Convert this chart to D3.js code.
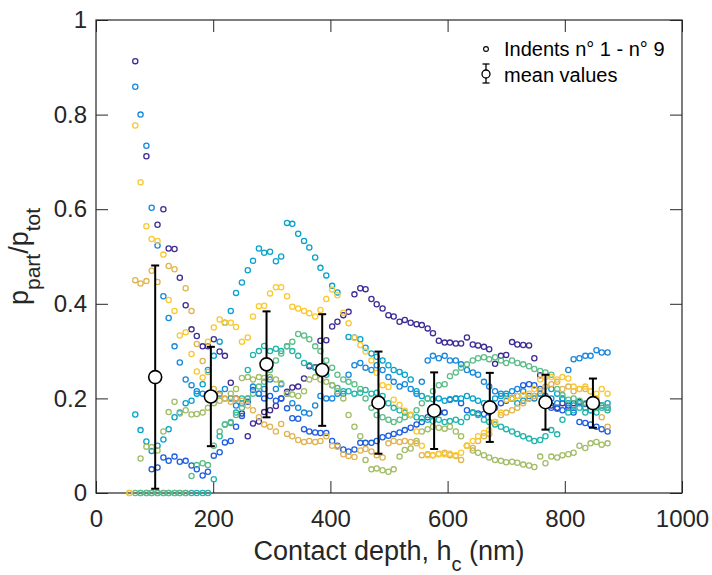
<!DOCTYPE html>
<html>
<head>
<meta charset="utf-8">
<script src="https://cdn.jsdelivr.net/npm/d3@7"></script>
<style>
  body { margin: 0; background: #fff; }
  svg { font-family: "Liberation Sans", Arial, Helvetica, sans-serif; }
</style>
</head>
<body>
<svg id="chart" width="712" height="575"></svg>
<script>
// contact depth grid (nm), shared by the nine indents
var depth = [57,67,76,86,95,105,115,124,134,143, 153,163,172,182,191,201,211,220,230,239,
  249,259,268,278,287,297,307,316,326,335, 345,355,364,374,383,393,403,412,422,431,
  441,451,460,470,479,489,499,508,518,527, 537,547,556,566,575,585,595,604,614,623,
  633,643,652,662,671,681,691,700,710,719, 729,739,748,758,767,777,787,796,806,815,
  825,835,844,854,863,873];

// p_part / p_tot for each indent (null = no point)
var indent1 = [null,.913,null,.712,null,.567,.60,.517,.516,.455, .397,.346,.332,.31,.31,.325,.299,.29,.233,.20,
  .168,.12,.147,.151,.171,.175,.184,.20,.214,.223, .225,.242,.268,.266,.322,.323,.352,.362,.376,.383,
  .42,.433,.431,.41,.399,.39,.376,.373,.362,.366, .36,.357,.355,.348,.338,.322,.318,.318,.316,.316,
  .329,.314,.312,.309,.304,.273,.29,.292,.319,.314, .313,.312,.285,.249,.20,.185,.18,.19,.185,.19,
  .193,.188,.19,.19,.185,.18];
var indent2 = [null,null,null,null,.05,.054,.075,.068,.077,.066, .068,.058,.05,.037,.045,.079,.086,.107,.11,.14,
  .163,.193,.218,.21,.2,.205,.195,.2,.179,.158, .157,.135,.13,.128,.127,.127,.11,.1,.092,.088,
  .092,.106,.106,.106,.11,.118,.121,.125,.128,.133, .138,.145,.15,.16,.166,.17,.17,.197,.2,.19,
  .175,.17,.168,.167,.17,.18,.19,.195,.2,.205, .228,.23,.228,.22,.2,.18,.178,.175,.18,.17,
  .15,.148,.145,.14,.135,.13];
var indent3 = [null,.859,.80,.734,.603,.523,.416,.37,.31,.276, .24,.228,.215,.21,.205,.2,.21,.22,.2,.185,
  .19,.2,.225,.21,.22,.24,.22,.23,.21,.19, .18,.17,.168,.185,.205,.2,.2,.21,.21,.25,
  .27,.275,.265,.26,.27,.26,.245,.235,.225,.23, .22,.21,.235,.28,.29,.285,.29,.28,.28,.272,
  .26,.255,.25,.235,.225,.215,.21,.205,.215,.22, .215,.205,.2,.21,.205,.2,.19,.2,.26,.283,
  .285,.29,.29,.302,.297,.297];
var indent4 = [null,.166,.133,.109,.089,.1,.113,.135,.16,.17, .19,.195,.21,.23,.26,.29,.32,.36,.385,.423,
  .445,.471,.491,.517,.508,.51,.49,.50,.571,.569, .548,.533,.519,.498,.476,.46,.438,.424,null,.33,
  .329,.325,.307,.295,.288,.28,.27,.26,.256,.25, .24,.215,.205,.2,.198,.2,.195,.198,.2,.2,
  .205,.2,.195,.19,.19,.2,.205,.21,.2,.19, .195,.2,.205,.21,.2,.22,.21,.2,.19,.185,
  .19,.18,.175,.18,.185,.19];
var indent5 = [null,null,0,0,0,0,0,0,0,0, 0,0,0,0,0,.029,.12,.145,.148,.17,
  .2,.26,.292,.30,.311,.30,.305,.30,.31,.30, .29,.275,.27,.265,.26,.25,.228,.222,.215,.215,
  .21,.212,.218,.21,.212,.205,.19,.18,.175,.17, .165,.16,.158,.155,.152,.155,.15,.152,.155,.15,
  .16,.17,.165,.155,.15,.145,.14,.135,.13,.125, .12,.115,.11,.112,.12,.133,.124,.155,.17,.175,
  .18,.17,.175,.17,.18,.175];
var indent6 = [null,0,0,0,0,0,0,0,0,0, 0,.036,.059,.063,.059,.1,.13,.145,.15,.165,
  .18,.2,.21,.225,.235,.26,.28,.295,.31,.32, .336,.333,.325,.31,.30,.28,.265,.25,.24,.235,
  .23,.22,.2,.18,.165,.16,.155,.15,.155,.16, .165,.175,.19,.2,.215,.228,.23,.247,.255,.265,
  .272,.28,.285,.287,.283,.287,.28,.275,.28,.275, .272,.268,.262,.258,.255,.25,.22,.207,.197,.2,
  .195,.19,.185,.18,.185,.18];
var indent7 = [0,null,.073,.098,.097,.09,.13,.171,.193,.168, .175,.166,.167,.17,.18,.19,.195,.2,.21,.22,
  .243,.245,.24,.245,.243,.245,.24,.232,.21,.208, .205,.215,.24,.245,.24,.235,.228,.215,.2,.165,
  .14,.12,.07,.05,.052,.048,.045,.05,.077,.091, .094,.11,.13,.135,.14,.138,.136,.14,.13,.12,
  .1,.09,.085,.08,.075,.07,.068,.065,.066,.064, .06,.058,.055,.077,.063,.077,.075,.08,.082,.085,
  .1,.095,.105,.108,.102,.105];
var indent8 = [null,.45,.443,.448,.47,.446,null,.48,.473,null, .433,.385,.315,.279,.256,.22,.207,.199,.193,.2,
  .195,.185,.175,.16,.145,.14,.13,.146,.125,.12, .112,.108,.11,.108,.11,.12,.1,.098,.082,.078,
  .076,.09,.093,.088,.08,.075,.105,.11,.108,.11, .108,.105,.08,.082,.08,.083,.085,.08,.078,.07,
  .1,.095,.11,.12,.125,.15,.165,.17,.175,.18, .19,.2,.205,.215,.225,.23,.235,.22,.225,.215,
  .22,.22,.215,.2,.16,.14];
var indent9 = [0,.777,.657,.564,.537,.533,.504,.408,.385,.333, .34,.294,.257,.244,.32,.35,.367,.36,.36,.351,
  .32,.329,.373,.395,.396,.422,.435,.435,.416,.394, .39,.385,.38,.373,.387,.41,.43,.418,.381,.359,
  .328,.313,.299,.28,.254,.228,.224,.197,.186,.174, .165,.13,.1,.08,.08,.082,.082,.083,.08,.085,
  .1,.11,.12,.127,.133,.15,.17,.197,.2,.205, .207,.21,.22,.24,.245,.245,.24,.245,.242,.225,
  .22,.225,.215,.21,.22,.21];

var indents = [indent1, indent2, indent3, indent4, indent5, indent6, indent7, indent8, indent9];
var indentColors = ["#3e2b96", "#1d5ee0", "#1888dc", "#07a2cd", "#20b4ac",
  "#5dbd88", "#a2bd66", "#e0b451", "#fbc830"];

// mean values with standard deviation
var meanDepth = [101, 196, 291, 386, 482, 577, 672, 767, 848];
var meanValue = [0.245, 0.204, 0.272, 0.26, 0.191, 0.174, 0.181, 0.192, 0.19];
var meanStd = [0.236, 0.105, 0.112, 0.118, 0.108, 0.081, 0.073, 0.058, 0.052];

var xTicks = [0, 200, 400, 600, 800, 1000];
var yTicks = [0, 0.2, 0.4, 0.6, 0.8, 1];

var svg = d3.select("#chart");
var margin = {left: 96, top: 20, right: 30, bottom: 82};
var width = 712 - margin.left - margin.right,
  height = 575 - margin.top - margin.bottom;

var x = d3.scaleLinear().domain([0, 1000]).range([0, width]);
var y = d3.scaleLinear().domain([0, 1]).range([height, 0]);

var g = svg.append("g").attr("transform", "translate(" + margin.left + "," + margin.top + ")");

// axes, ticks pointing inward on all four sides
var axisColor = "#262626";
function styleAxis(sel) {
  sel.select(".domain").remove();
  sel.selectAll("line").attr("stroke", axisColor).attr("stroke-width", 1);
  sel.selectAll("text").attr("fill", axisColor).attr("font-size", 24);
}

g.append("g")
  .attr("transform", "translate(0," + height + ")")
  .call(d3.axisBottom(x).tickValues(xTicks).tickSize(-12).tickPadding(17).tickFormat(d3.format("d")))
  .call(styleAxis);
g.append("g")
  .call(d3.axisLeft(y).tickValues(yTicks).tickSize(-12).tickPadding(9).tickFormat(function(d) { return d3.format("")(d); }))
  .call(styleAxis);
g.append("g")
  .call(d3.axisTop(x).tickValues(xTicks).tickSize(-12).tickFormat(""))
  .call(styleAxis);
g.append("g")
  .attr("transform", "translate(" + width + ",0)")
  .call(d3.axisRight(y).tickValues(yTicks).tickSize(-12).tickFormat(""))
  .call(styleAxis);

g.append("rect")
  .attr("width", width)
  .attr("height", height)
  .attr("fill", "none")
  .attr("stroke", axisColor)
  .attr("stroke-width", 1.2);

// indent scatter points
indents.forEach(function(vals, i) {
  var pts = depth.map(function(d, j) { return {x: d, y: vals[j]}; })
    .filter(function(p) { return p.y !== null; });
  g.append("g").selectAll("circle").data(pts).enter().append("circle")
    .attr("cx", function(d) { return x(d.x); })
    .attr("cy", function(d) { return y(d.y); })
    .attr("r", 2.6)
    .attr("fill", "none")
    .attr("stroke", indentColors[i])
    .attr("stroke-width", 1.3);
});

// mean values with error bars
var means = meanDepth.map(function(d, i) { return {x: d, m: meanValue[i], s: meanStd[i]}; });
var mg = g.append("g");
var eb = mg.selectAll("g").data(means).enter().append("g");
eb.append("line")
  .attr("x1", function(d) { return x(d.x); }).attr("x2", function(d) { return x(d.x); })
  .attr("y1", function(d) { return y(d.m - d.s); }).attr("y2", function(d) { return y(d.m + d.s); })
  .attr("stroke", "#000").attr("stroke-width", 2);
[-1, 1].forEach(function(sign) {
  eb.append("line")
    .attr("x1", function(d) { return x(d.x) - 4; }).attr("x2", function(d) { return x(d.x) + 4; })
    .attr("y1", function(d) { return y(d.m + sign * d.s); }).attr("y2", function(d) { return y(d.m + sign * d.s); })
    .attr("stroke", "#000").attr("stroke-width", 2);
});
eb.append("circle")
  .attr("cx", function(d) { return x(d.x); })
  .attr("cy", function(d) { return y(d.m); })
  .attr("r", 6.5)
  .attr("fill", "#fff")
  .attr("stroke", "#000")
  .attr("stroke-width", 1.6);

// legend
var leg = svg.append("g");
leg.append("circle").attr("cx", 486).attr("cy", 49).attr("r", 2.4)
  .attr("fill", "none").attr("stroke", "#000").attr("stroke-width", 1.1);
leg.append("text").attr("x", 504).attr("y", 56).attr("font-size", 20).attr("fill", "#000")
  .text("Indents n° 1 - n° 9");
leg.append("line").attr("x1", 486).attr("x2", 486).attr("y1", 64).attr("y2", 83)
  .attr("stroke", "#000").attr("stroke-width", 1.3);
[64, 83].forEach(function(yy) {
  leg.append("line").attr("x1", 482.5).attr("x2", 489.5).attr("y1", yy).attr("y2", yy)
    .attr("stroke", "#000").attr("stroke-width", 1.3);
});
leg.append("circle").attr("cx", 486).attr("cy", 74).attr("r", 4)
  .attr("fill", "#fff").attr("stroke", "#000").attr("stroke-width", 1.3);
leg.append("text").attr("x", 504).attr("y", 82).attr("font-size", 20).attr("fill", "#000")
  .text("mean values");

// axis labels
var xl = svg.append("text")
  .attr("x", margin.left + width / 2)
  .attr("y", 560)
  .attr("text-anchor", "middle")
  .attr("font-size", 27)
  .attr("fill", axisColor);
xl.append("tspan").text("Contact depth, h");
xl.append("tspan").attr("font-size", 20).attr("dy", 11).text("c");
xl.append("tspan").attr("dy", -11).text(" (nm)");

var yl = svg.append("text")
  .attr("transform", "translate(28," + (margin.top + height / 2) + ") rotate(-90)")
  .attr("text-anchor", "middle")
  .attr("font-size", 27)
  .attr("fill", axisColor);
yl.append("tspan").text("p");
yl.append("tspan").attr("font-size", 21).attr("dy", 12).text("part");
yl.append("tspan").attr("dy", -12).text("/p");
yl.append("tspan").attr("font-size", 21).attr("dy", 12).text("tot");
</script>
</body>
</html>
